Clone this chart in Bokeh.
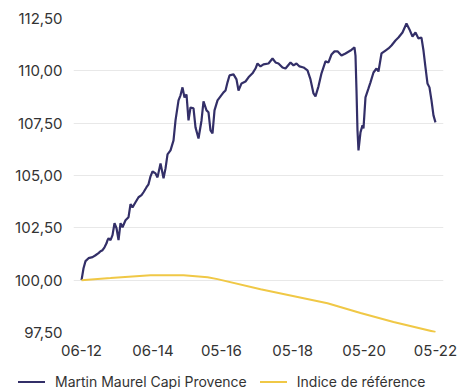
from bokeh.plotting import figure
from bokeh.layouts import column
from bokeh.models import FixedTicker, Range1d, Div
from bokeh.embed import file_html
from bokeh.resources import INLINE

# months since June 2012
fund_months = [0, 0.67, 1.34, 2.35, 3.70, 4.71, 5.71, 6.39, 7.06, 7.73, 8.40, 8.74, 9.08, 9.75,
               10.42, 11.09, 11.77, 12.44, 13.11, 13.78, 14.79, 15.80, 16.47, 17.14, 18.15, 19.16,
               20.17, 20.84, 21.85, 22.52, 23.20, 23.87, 24.88, 25.55, 26.56, 27.57, 28.24, 28.91,
               29.92, 30.93, 31.60, 32.61, 33.28, 33.95, 34.62, 35.30, 35.97, 36.64, 37.65, 38.32,
               39.33, 40.34, 41.01, 42.02, 42.69, 43.36, 44.04, 44.71, 45.72, 46.73, 47.74, 48.41,
               49.08, 49.75, 51.10, 52.10, 52.78, 53.79, 55.13, 56.14, 57.48, 58.49, 59.16, 60.17,
               61.18, 62.86, 64.21, 65.22, 66.22, 67.57, 68.58, 70.26, 71.27, 72.27, 73.28, 74.63,
               75.97, 76.98, 77.99, 78.66, 79.67, 80.68, 82.02, 83.03, 84.04, 85.05, 86.06, 87.40,
               88.75, 90.43, 91.77, 92.11, 92.45, 92.78, 93.12, 93.79, 94.46, 94.80, 95.47, 96.48,
               97.15, 98.16, 99.17, 99.84, 100.85, 102.19, 103.20, 104.21, 105.55, 106.56, 107.91,
               109.25, 110.26, 111.27, 112.28, 113.29, 114.29, 114.97, 115.64, 116.31, 116.98,
               117.66, 118.33, 119.00]
fund_values = [100.00, 100.57, 100.91, 101.05, 101.10, 101.19, 101.29, 101.38, 101.43, 101.57,
               101.76, 101.91, 102.00, 101.91, 102.15, 102.72, 102.48, 101.91, 102.72, 102.53,
               102.86, 103.01, 103.63, 103.48, 103.72, 103.96, 104.06, 104.20, 104.44, 104.58,
               104.96, 105.20, 105.10, 104.91, 105.58, 104.87, 105.34, 106.01, 106.20, 106.68,
               107.63, 108.59, 108.83, 109.21, 108.73, 108.87, 107.63, 108.25, 108.21, 107.30,
               106.77, 107.63, 108.54, 108.11, 108.02, 107.16, 107.01, 108.11, 108.59, 108.78,
               108.97, 109.06, 109.45, 109.78, 109.83, 109.59, 109.06, 109.40, 109.49, 109.69,
               109.88, 110.11, 110.35, 110.21, 110.31, 110.35, 110.59, 110.40, 110.35, 110.16,
               110.11, 110.40, 110.26, 110.35, 110.21, 110.16, 110.02, 109.59, 108.92, 108.78,
               109.26, 109.88, 110.45, 110.40, 110.78, 110.93, 110.93, 110.73, 110.83, 110.97,
               111.12, 110.73, 109.06, 107.16, 106.20, 107.06, 107.40, 107.25, 108.73, 109.16,
               109.45, 109.92, 110.11, 109.97, 110.83, 110.97, 111.07, 111.21, 111.45, 111.59,
               111.83, 112.26, 111.98, 111.64, 111.83, 111.55, 111.59, 110.97, 110.16, 109.40,
               109.21, 108.59, 107.87, 107.54]

ref_months = [0, 9.75, 23.2, 34.3, 42.4, 45.7, 60.2, 82.7, 93.8, 104.9, 119.0]
ref_values = [100.00, 100.10, 100.24, 100.24, 100.14, 100.05, 99.57, 98.90, 98.43, 98.00, 97.52]

x_tick_months = [0, 24, 47, 71, 95, 119]
x_tick_labels = ["06-12", "06-14", "05-16", "05-18", "05-20", "05-22"]
y_ticks = [97.5, 100, 102.5, 105, 107.5, 110, 112.5]
y_tick_labels = ["97,50", "100,00", "102,50", "105,00", "107,50", "110,00", "112,50"]
grid_ticks = [100, 102.5, 105, 107.5, 110]
series_names = ["Martin Maurel Capi Provence", "Indice de référence"]

FONT = "Inter"
TEXT = "#333333"
NAVY = "#332f68"
GOLD = "#f0c846"

p = figure(width=457, height=359, output_backend="svg", toolbar_location=None,
           x_range=Range1d(-2.7, 121.7), y_range=Range1d(97.5, 112.5),
           min_border_left=73, min_border_right=14, min_border_top=18, min_border_bottom=27)
p.outline_line_color = None
p.background_fill_color = "white"
p.border_fill_color = "white"

p.line(fund_months, fund_values, line_color=NAVY, line_width=2.2)
p.line(ref_months, ref_values, line_color=GOLD, line_width=2)

p.xgrid.grid_line_color = None
p.ygrid.ticker = FixedTicker(ticks=grid_ticks)
p.ygrid.grid_line_color = "#e8e8e8"
p.ygrid.grid_line_width = 1

for ax in (p.xaxis[0], p.yaxis[0]):
    ax.axis_line_color = None
    ax.major_tick_line_color = None
    ax.minor_tick_line_color = None
    ax.major_tick_out = 0
    ax.major_tick_in = 0
    ax.minor_tick_out = 0
    ax.major_label_text_font = FONT
    ax.major_label_text_font_size = "15px"
    ax.major_label_text_color = TEXT

p.xaxis.ticker = FixedTicker(ticks=x_tick_months)
p.xaxis.major_label_overrides = {m: l for m, l in zip(x_tick_months, x_tick_labels)}
p.xaxis.major_label_standoff = 12
p.yaxis.ticker = FixedTicker(ticks=y_ticks)
p.yaxis.major_label_overrides = {t: l for t, l in zip(y_ticks, y_tick_labels)}
p.yaxis.major_label_standoff = 11

key = ("display:inline-block;width:27px;height:2px;background:{c};"
       "vertical-align:middle;margin:0 10px 0 {ml}px;")
legend_html = (
    '<div style="height:16px;margin-top:14px;padding-left:18px;white-space:nowrap;'
    f'font-family:{FONT};font-size:14px;line-height:16px;color:{TEXT};">'
    f'<span style="{key.format(c=NAVY, ml=0)}"></span>'
    f'<span style="vertical-align:middle;">{series_names[0]}</span>'
    f'<span style="{key.format(c=GOLD, ml=13)}"></span>'
    f'<span style="vertical-align:middle;">{series_names[1]}</span>'
    '</div>'
)
legend_div = Div(text=legend_html, width=457, height=30, margin=0)

layout = column(p, legend_div, spacing=0)
open("out.html", "w").write(file_html(layout, INLINE))
